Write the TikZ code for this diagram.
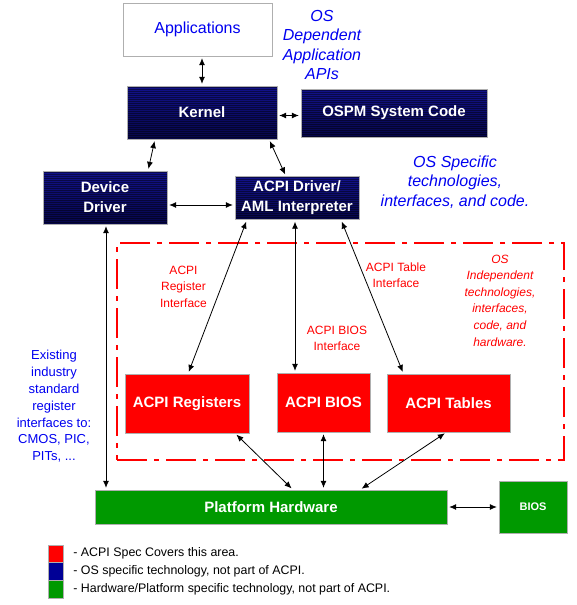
\documentclass[tikz,border=0pt]{standalone}
\usepackage{fontspec}
\setmainfont{Liberation Sans}
\usepackage{xcolor}
\usepackage{tikz}
\usetikzlibrary{positioning, arrows.meta}

\definecolor{acpired}{RGB}{255,0,0}
\definecolor{navytop}{RGB}{18,18,140}
\definecolor{navybot}{RGB}{6,6,72}
\definecolor{hwgreen}{RGB}{0,153,0}
\definecolor{osblue}{RGB}{0,0,240}
\definecolor{legblue}{RGB}{0,0,150}
\definecolor{boxline}{RGB}{175,175,175}

\begin{document}
\begin{tikzpicture}[
          x=1pt, y=-1pt,
          every node/.style={inner sep=0pt, align=center},
          appbox/.style={draw=boxline, fill=white, text=osblue, font=\fontsize{16}{20}\selectfont},
          osbox/.style={draw=boxline, top color=navytop, bottom color=navybot, text=white,
                        font=\fontsize{15}{20}\selectfont\bfseries,
                        path picture={\foreach \k in {1,3,...,59}
                          \draw[black, opacity=.45, line width=.9pt]
                            ([yshift=-\k pt]path picture bounding box.north west) --
                            ([yshift=-\k pt]path picture bounding box.north east);}},
          acpibox/.style={draw=boxline, fill=acpired, text=white, font=\fontsize{15}{20}\selectfont\bfseries},
          hwbox/.style={draw=boxline, fill=hwgreen, text=white, font=\fontsize{15}{20}\selectfont\bfseries},
          zone/.style={draw=acpired, line width=2.2pt, dash pattern=on 30pt off 7pt on 5pt off 7pt},
          oslabel/.style={text=osblue, font=\fontsize{16}{19.6}\selectfont\itshape},
          acpilabel/.style={text=acpired, font=\fontsize{12}{16.5}\selectfont},
          legkey/.style={draw=boxline, minimum width=15pt, minimum height=17.5pt},
          legtext/.style={anchor=west, font=\fontsize{12.4}{15}\selectfont},
          arrow/.style={{Latex[length=7pt,width=6pt]}-{Latex[length=7pt,width=6pt]}, line width=.8pt,
                        shorten <=2pt, shorten >=2pt}
      ]
  \useasboundingbox (0,0) rectangle (576,605);

      % Nodes
      \node[zone, minimum width=447pt, minimum height=217pt] (zone) at (340.5,351.5) {};
      \node[appbox, minimum width=149pt, minimum height=53pt] (apps) at (197.5,29.5) {Applications};
      \node[osbox, minimum width=150pt, minimum height=53pt] (kernel) at (202,112.5) {Kernel};
      \node[osbox, minimum width=186pt, minimum height=48pt] (ospm) at (394,113) {OSPM System Code};
      \node[osbox, minimum width=124pt, minimum height=53pt] (devdrv) at (105,197.5) {Device\\Driver};
      \node[osbox, minimum width=124pt, minimum height=43pt] (acpidrv) at (297,198) {ACPI Driver/\\AML Interpreter};
      \node[acpibox, minimum width=124pt, minimum height=59pt] (regs) at (187,403.5) {ACPI Registers};
      \node[acpibox, minimum width=93pt, minimum height=59pt] (acpibios) at (323.5,402.5) {ACPI BIOS};
      \node[acpibox, minimum width=123pt, minimum height=58pt] (tables) at (448.5,403) {ACPI Tables};
      \node[hwbox, minimum width=352pt, minimum height=34pt] (platform) at (271,507) {Platform Hardware};
      \node[hwbox, minimum width=68pt, minimum height=52pt, font=\fontsize{11}{13}\selectfont\bfseries] (rombios) at (533,507) {BIOS};

      % Labels
      \node[oslabel] (osdep) at (322,45) {OS\\Dependent\\Application\\APIs};
      \node[oslabel] (osspec) at (455,182) {OS Specific\\technologies,\\interfaces, and code.};
      \node[acpilabel, font=\fontsize{12}{16.6}\selectfont\itshape] (osindep) at (500,300.5)
           {OS\\Independent\\technologies,\\interfaces,\\code, and\\hardware.};
      \node[acpilabel] (reglbl) at (183.5,286.5) {ACPI\\Register\\Interface};
      \node[acpilabel] (tbllbl) at (396,275) {ACPI Table\\Interface};
      \node[acpilabel] (bioslbl) at (337,338.5) {ACPI BIOS\\Interface};
      \node[text=osblue, font=\fontsize{13}{16.8}\selectfont] (legacy) at (54,406.5)
           {Existing\\industry\\standard\\register\\interfaces to:\\CMOS, PIC,\\PITs, ...};

      % Legend
      \node[legkey, fill=acpired] (keyred) at (55.5,553.5) {};
      \node[legkey, fill=legblue, below=0pt of keyred] (keyblue) {};
      \node[legkey, fill=hwgreen, below=0pt of keyblue] (keygreen) {};
      \node[legtext, right=10pt of keyred] (txtred) {- ACPI Spec Covers this area.};
      \node[legtext, right=10pt of keyblue] (txtblue) {- OS specific technology, not part of ACPI.};
      \node[legtext, right=10pt of keygreen] (txtgreen) {- Hardware/Platform specific technology, not part of ACPI.};

      % Arrows
      \draw[arrow] ([xshift=4.5pt]apps.south) -- ([xshift=4.5pt]apps.south |- kernel.north);
      \draw[arrow] ([yshift=-3pt]kernel.east) -- ([yshift=-3pt]kernel.east -| ospm.west);
      \draw[arrow] ([xshift=-47pt]kernel.south) -- ([xshift=43pt]devdrv.north);
      \draw[arrow] ([xshift=67pt]kernel.south) -- ([xshift=-11pt]acpidrv.north);
      \draw[arrow] ([yshift=-7.5pt]devdrv.east) -- ([yshift=-7.5pt]devdrv.east -| acpidrv.west);
      \draw[arrow] ([xshift=1pt]devdrv.south) -- ([xshift=1pt]devdrv.south |- platform.north);
      \draw[arrow] ([xshift=-50pt]acpidrv.south) -- ([xshift=1pt]regs.north);
      \draw[arrow] ([xshift=-2pt]acpidrv.south) -- ([xshift=-2pt]acpidrv.south |- acpibios.north);
      \draw[arrow] ([xshift=44pt]acpidrv.south) -- ([xshift=-45pt]tables.north);
      \draw[arrow] ([xshift=48pt]regs.south) -- ([xshift=22pt]platform.north);
      \draw[arrow] (acpibios.south) -- (acpibios.south |- platform.north);
      \draw[arrow] ([xshift=-2pt]tables.south) -- ([xshift=89pt]platform.north);
      \draw[arrow] (platform.east) -- (rombios.west);

      \end{tikzpicture}
\end{document}
